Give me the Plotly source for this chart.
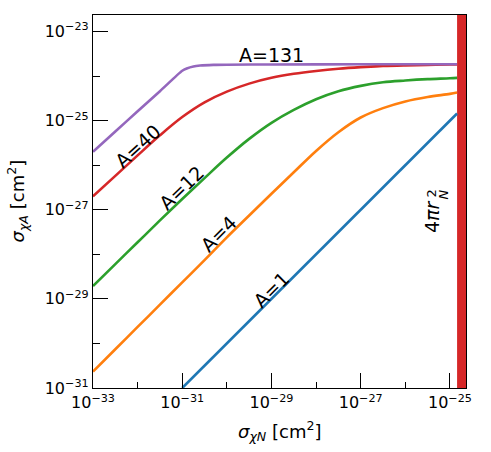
import numpy as np
import plotly.graph_objects as go

# log10 of sigma_chiN [cm^2] sample points
log_sN = [-33.0, -32.5, -32.0, -31.5, -31.0, -30.5, -30.0, -29.5, -29.0,
          -28.5, -28.0, -27.5, -27.0, -26.5, -26.0, -25.5, -25.0, -24.84]

# log10 of sigma_chiA [cm^2] for each nucleus
log_A1_x = [-31.0, -30.0, -29.0, -28.0, -27.0, -26.0, -25.0, -24.84]
log_A1_y = [-31.0, -30.0, -29.0, -28.0, -27.0, -26.0, -25.0, -24.84]

log_A4 = [-30.63, -30.13, -29.63, -29.13, -28.63, -28.13, -27.62, -27.13, -26.64,
          -26.16, -25.68, -25.26, -24.93, -24.72, -24.57, -24.47, -24.40, -24.37]
log_A12 = [-28.71, -28.22, -27.73, -27.24, -26.76, -26.29, -25.83, -25.41, -25.05,
           -24.76, -24.52, -24.34, -24.22, -24.14, -24.10, -24.07, -24.05, -24.04]
log_A40 = [-26.70, -26.24, -25.78, -25.33, -24.92, -24.59, -24.35, -24.17, -24.04,
           -23.95, -23.885, -23.835, -23.80, -23.775, -23.76, -23.75, -23.74, -23.74]
log_A131_x = [-33.0, -32.5, -32.0, -31.5, -31.0, -30.9, -30.75, -30.6, -30.3, -30.0,
              -29.0, -27.0, -25.0, -24.84]
log_A131_y = [-25.70, -25.245, -24.79, -24.34, -23.88, -23.83, -23.785, -23.765, -23.75,
              -23.745, -23.74, -23.735, -23.735, -23.735]

labels = ["A=1", "A=4", "A=12", "A=40", "A=131"]
colors = ["#1f77b4", "#ff7f0e", "#2ca02c", "#d62728", "#9467bd"]
smooth = [0.0, 1.0, 1.0, 1.0, 0.7]

# geometric limit 4*pi*r_N^2 and axis limits (log10)
log_geo = -24.84
x_range = [-33.0, -24.64]
y_range = [-31.0, -22.63]

major_x = [-33, -31, -29, -27, -25]
minor_x = [-32, -30, -28, -26]
major_y = [-31, -29, -27, -25, -23]
minor_y = [-30, -28, -26, -24]

# label positions (log10 coords) and angles
lab_pos = {"A=1": (-29.01, -28.80, -45), "A=4": (-30.19, -27.54, -45),
           "A=12": (-31.02, -26.51, -44), "A=40": (-32.0, -25.56, -42),
           "A=131": (-29.01, -23.53, 0)}

series = [
    (log_A1_x, log_A1_y),
    (log_sN, log_A4),
    (log_sN, log_A12),
    (log_sN, log_A40),
    (log_A131_x, log_A131_y),
]

FONT = "DejaVu Sans"
fig_w, fig_h = 491, 452
pl, pr, pt, pb = 93, 25, 15, 64

fig = go.Figure()
for (lx, ly), lab, col, sm in zip(series, labels, colors, smooth):
    line = dict(color=col, width=2.6)
    if sm > 0:
        line.update(shape="spline", smoothing=sm)
    fig.add_trace(go.Scatter(
        x=10.0 ** np.array(lx), y=10.0 ** np.array(ly), mode="lines",
        line=line, name=lab, showlegend=False, hoverinfo="skip"))

fig.add_shape(type="rect", xref="x", yref="paper",
              x0=10.0 ** log_geo, x1=10.0 ** x_range[1], y0=0, y1=1,
              fillcolor="#d62728", line=dict(width=0), layer="below")

def sup(e):
    return "10<sup>\u2212%d</sup>" % (-e)

axis_common = dict(type="log", showgrid=False, zeroline=False, showline=True,
                   linecolor="black", linewidth=1.3, mirror=True,
                   ticks="inside", ticklen=15, tickwidth=1.1, tickcolor="black",
                   tickfont=dict(family=FONT, size=16, color="black"),
                   tickmode="array")

fig.update_xaxes(range=x_range, tickvals=[10.0 ** v for v in major_x],
                 ticktext=[sup(v) for v in major_x],
                 minor=dict(tickvals=[10.0 ** v for v in minor_x], ticklen=6,
                            tickwidth=1.1, tickcolor="black", ticks="inside"),
                 **axis_common)
fig.update_yaxes(range=y_range, tickvals=[10.0 ** v for v in major_y],
                 ticktext=[sup(v) for v in major_y],
                 minor=dict(tickvals=[10.0 ** v for v in minor_y], ticklen=7,
                            tickwidth=1.1, tickcolor="black", ticks="inside"),
                 **axis_common)

annotations = []
for lab in labels:
    x, y, ang = lab_pos[lab]
    annotations.append(dict(x=x, y=y, xref="x", yref="y", text=lab,
                            showarrow=False, textangle=ang,
                            font=dict(family=FONT, size=19, color="black")))

def px_to_paper(X, Y):
    return ((X - pl) / (fig_w - pl - pr), (fig_h - pb - Y) / (fig_h - pt - pb))

# 4*pi*r_N^2 label (vertical), with stacked superscript / subscript
for txt, (X, Y), size in [("4<i>\u03c0r</i>", (445, 217), 19),
                          ("2", (440, 194), 13),
                          ("<i>N</i>", (452, 195), 13)]:
    px, py = px_to_paper(X, Y)
    annotations.append(dict(x=px, y=py, xref="paper", yref="paper", text=txt,
                            showarrow=False, textangle=-90,
                            font=dict(family=FONT, size=size, color="black")))

annotations.append(dict(x=0.5, y=0, xref="paper", yref="paper", yanchor="middle",
                        yshift=-43, showarrow=False,
                        text="<i>\u03c3</i><sub><i>\u03c7N</i></sub> [cm<sup>2</sup>]",
                        font=dict(family=FONT, size=18, color="black")))
annotations.append(dict(x=0, y=0.5, xref="paper", yref="paper", xanchor="center",
                        xshift=-76, showarrow=False, textangle=-90,
                        text="<i>\u03c3</i><sub><i>\u03c7A</i></sub> [cm<sup>2</sup>]",
                        font=dict(family=FONT, size=18, color="black")))

fig.update_layout(width=fig_w, height=fig_h,
                  margin=dict(l=pl, r=pr, t=pt, b=pb),
                  paper_bgcolor="white", plot_bgcolor="white",
                  annotations=annotations)

fig.write_html("out.html")
